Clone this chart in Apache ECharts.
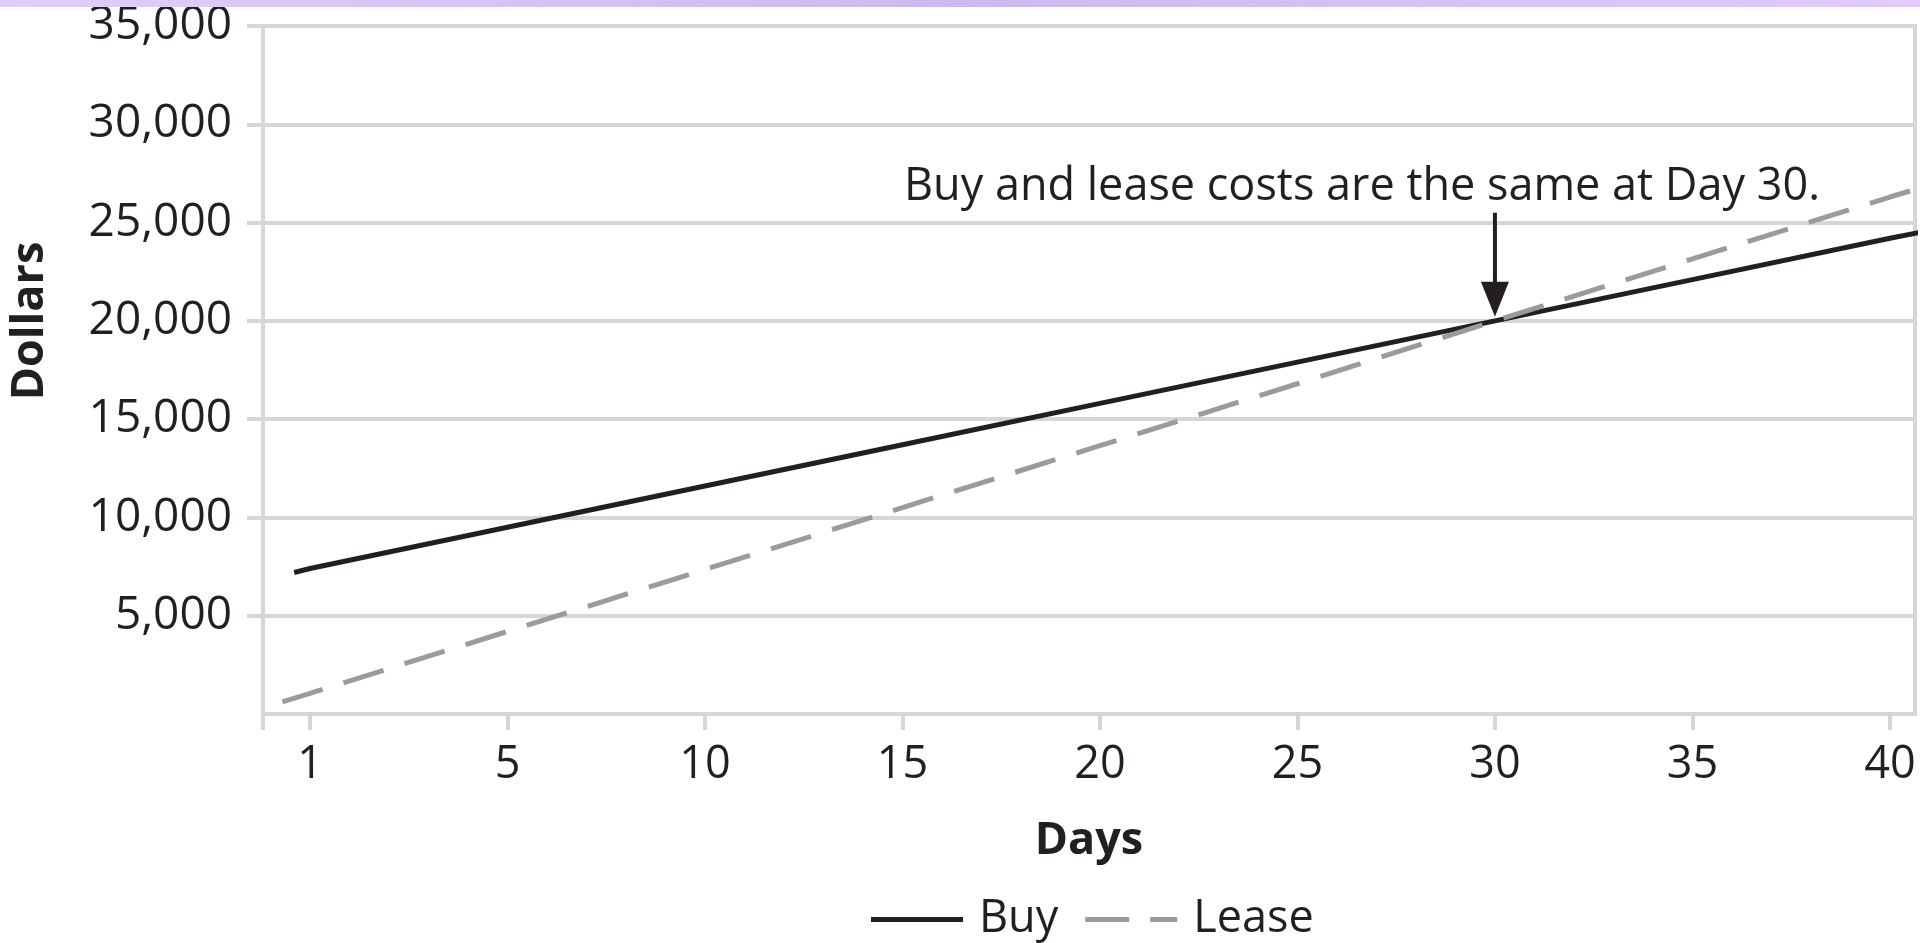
<!DOCTYPE html>
<html>
<head>
<meta charset="utf-8">
<title>Buy vs Lease</title>
<script src="https://cdn.jsdelivr.net/npm/echarts@6/dist/echarts.min.js"></script>
<style>
  html, body { margin: 0; padding: 0; background: #ffffff; }
  #chart { width: 1920px; height: 943px; }
</style>
</head>
<body>
<div id="chart"></div>
<script>
// Day labels shown on the x axis (evenly spaced, one slot each)
const dayLabels = ['1', '5', '10', '15', '20', '25', '30', '35', '40'];

// Cumulative cost in dollars at each labelled day
const buyCost   = [7400, 9500, 11600, 13700, 15800, 17900, 20000, 22100, 24200];
const leaseCost = [1050, 4200, 7350, 10500, 13650, 16800, 20000, 23150, 26300];

// Both lines start just before day 1 and run past day 40
const buyLead   = [-0.08, 7200];
const buyTail   = [8.2, 24600];
const leaseLead = [-0.14, 620];
const leaseTail = [8.2, 26900];

// Break-even point called out on the chart
const breakEven = { slot: 6, dollars: 20000 };
const arrowTopDollars = 25500;
const noteText = 'Buy and lease costs are the same at Day 30.';

const INK = '#231f20';
const GRID = '#d5d6d8';
const LEASE = '#9a9b9d';
const FONT = '"Open Sans", "Noto Sans", sans-serif';

// Legend swatches: a solid stroke and a two-dash stroke
const SOLID_ICON = 'path://M0,0H92V5H0Z';
const DASH_ICON = 'path://M0,0H44V5H0Z M65,0H92V5H65Z';

const slots = dayLabels.map((_, i) => i);
const buyData = [buyLead].concat(buyCost.map((v, i) => [i, v]), [buyTail]);
const leaseData = [leaseLead].concat(leaseCost.map((v, i) => [i, v]), [leaseTail]);

const xMin = -0.238, xMax = 8.127;

const chart = echarts.init(document.getElementById('chart'), null, { renderer: 'canvas' });

chart.setOption({
  animation: false,
  backgroundColor: '#ffffff',
  grid: {
    left: 263, right: 5, top: 26, bottom: 229,
    show: true, borderColor: GRID, borderWidth: 4, backgroundColor: 'transparent'
  },
  xAxis: {
    type: 'value',
    min: xMin, max: xMax,
    name: 'Days',
    nameLocation: 'middle',
    nameGap: 105,
    nameTextStyle: { fontFamily: FONT, fontSize: 45, fontWeight: 'bold', color: INK },
    axisLine: { show: true, onZero: false, lineStyle: { color: GRID, width: 4 } },
    axisTick: { show: true, length: 16, customValues: [xMin].concat(slots), lineStyle: { color: GRID, width: 4 } },
    axisLabel: {
      customValues: slots,
      formatter: v => dayLabels[Math.round(v)],
      fontFamily: FONT, fontSize: 45, color: INK, margin: 29
    },
    splitLine: { show: false }
  },
  yAxis: {
    type: 'value',
    min: 0, max: 35000, interval: 5000,
    axisLine: { show: true, onZero: false, lineStyle: { color: GRID, width: 4 } },
    axisTick: { show: true, length: 16, lineStyle: { color: GRID, width: 4 } },
    axisLabel: {
      showMinLabel: false,
      formatter: v => v.toLocaleString('en-US'),
      fontFamily: FONT, fontSize: 46, color: INK, margin: 31
    },
    splitLine: { show: true, lineStyle: { color: GRID, width: 4 } }
  },
  legend: {
    data: [
      { name: 'Buy', icon: SOLID_ICON },
      { name: 'Lease', icon: DASH_ICON }
    ],
    left: 871, top: 897,
    padding: 0,
    itemWidth: 92, itemHeight: 44, itemGap: 27,
    symbolKeepAspect: true,
    textStyle: { fontFamily: FONT, fontSize: 45, color: INK, padding: [0, 0, 0, 11] }
  },
  series: [
    {
      name: 'Buy', type: 'line', data: buyData, symbol: 'none',
      lineStyle: { color: INK, width: 5 }, itemStyle: { color: INK }
    },
    {
      name: 'Lease', type: 'line', data: leaseData, symbol: 'none',
      lineStyle: { color: LEASE, width: 5, type: [42, 22] }, itemStyle: { color: LEASE }
    }
  ]
});

// Annotation arrow and note, placed through the chart's own scales
const tipPx = chart.convertToPixel({ gridIndex: 0 }, [breakEven.slot, breakEven.dollars]);
const tailPx = chart.convertToPixel({ gridIndex: 0 }, [breakEven.slot, arrowTopDollars]);
const tipY = tipPx[1] - 4;
const headH = 35, headW = 28;

chart.setOption({
  graphic: [
    {
      type: 'rect', left: 0, top: 0, z: 10,
      shape: { width: 1920, height: 7 },
      style: {
        fill: new echarts.graphic.LinearGradient(0, 0, 1, 0, [
          { offset: 0, color: '#e2cdf9' },
          { offset: 0.5, color: '#cdb9ef' },
          { offset: 1, color: '#e2cbfb' }
        ])
      }
    },
    {
      type: 'text', x: 30, y: 321, rotation: Math.PI / 2,
      style: {
        text: 'Dollars', fontFamily: FONT, fontSize: 45, fontWeight: 'bold',
        fill: INK, align: 'center', verticalAlign: 'middle'
      }
    },
    {
      type: 'text', x: 1362, y: 187,
      style: {
        text: noteText, fontFamily: FONT, fontSize: 45,
        fill: INK, align: 'center', verticalAlign: 'middle'
      }
    },
    {
      type: 'line', z: 20,
      shape: { x1: tipPx[0], y1: tailPx[1], x2: tipPx[0], y2: tipY - headH + 2 },
      style: { stroke: INK, lineWidth: 4 }
    },
    {
      type: 'polygon', z: 20,
      shape: { points: [[tipPx[0] - headW / 2, tipY - headH], [tipPx[0] + headW / 2, tipY - headH], [tipPx[0], tipY]] },
      style: { fill: INK }
    }
  ]
});
</script>
</body>
</html>
